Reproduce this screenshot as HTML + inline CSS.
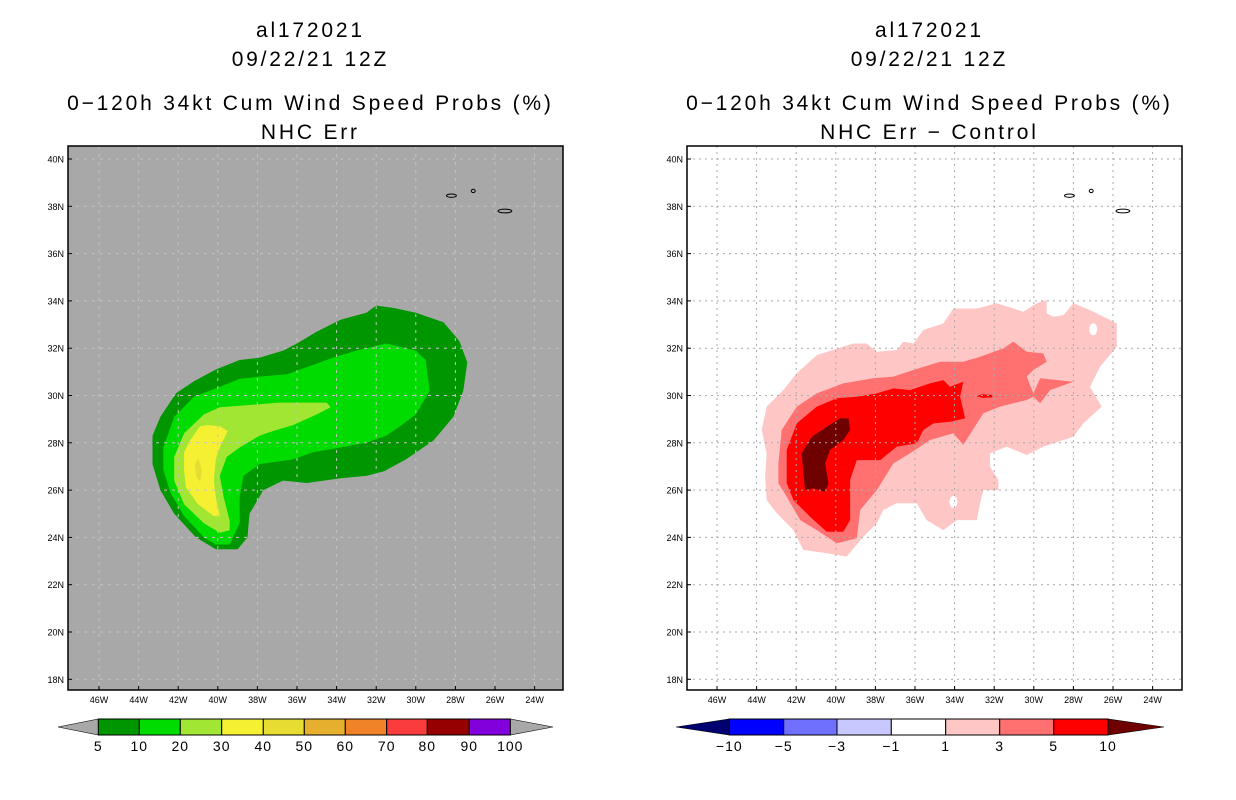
<!DOCTYPE html>
<html><head><meta charset="utf-8">
<style>
body{margin:0;background:#fff;}
svg{display:block;font-family:"Liberation Sans",sans-serif;}
.t{font-size:21px;text-anchor:middle;fill:#000;letter-spacing:2.8px;}
.tk{font-size:9px;fill:#000;}
.cl{font-size:14px;text-anchor:middle;fill:#000;letter-spacing:1px;}
</style></head>
<body>
<svg id="chart" width="1236" height="800" viewBox="0 0 1236 800" xmlns="http://www.w3.org/2000/svg"></svg>
<script>
// ---- data ----
const lonTicks = [46,44,42,40,38,36,34,32,30,28,26,24];
const latTicks = [40,38,36,34,32,30,28,26,24,22,20,18];
// Left panel contours (degrees W, degrees N)
const probs5 = [[43.3,28.3],[42.9,29.1],[42.1,30.1],[41.2,30.6],[40.1,31.1],[38.9,31.5],[37.9,31.6],[36.7,31.9],[36.0,32.2],[35.0,32.7],[33.8,33.2],[32.5,33.5],[32.0,33.8],[31.1,33.7],[30.0,33.5],[28.6,33.1],[27.8,32.3],[27.4,31.4],[27.6,30.2],[28.1,29.1],[29.1,28.1],[30.5,27.3],[31.6,26.8],[32.5,26.6],[33.8,26.5],[35.5,26.3],[36.7,26.4],[37.7,26.0],[38.4,25.0],[38.5,24.0],[39.0,23.5],[40.1,23.5],[41.1,24.0],[42.2,25.0],[42.9,26.0],[43.3,27.1]];
const probs10 = [[42.75,27.8],[42.2,29.1],[41.2,29.95],[40.1,30.3],[38.9,30.7],[37.9,30.8],[36.5,30.9],[35.5,31.2],[34.2,31.6],[33.0,31.9],[31.5,32.2],[31.0,32.1],[30.0,31.9],[29.5,31.5],[29.3,30.2],[30.0,29.2],[30.8,28.7],[31.5,28.3],[32.5,28.0],[33.8,27.8],[35.2,27.6],[36.2,27.3],[37.9,27.1],[38.7,26.6],[38.9,25.7],[38.9,24.6],[39.4,23.7],[40.1,23.7],[40.7,24.0],[41.7,24.9],[42.4,25.9],[42.75,26.85]];
const probs20 = [[42.2,27.4],[41.7,28.4],[40.7,29.2],[39.9,29.5],[38.4,29.6],[36.9,29.7],[35.85,29.7],[34.5,29.7],[34.3,29.5],[35.0,29.2],[36.2,28.75],[37.2,28.5],[37.9,28.3],[38.9,27.8],[39.55,27.4],[39.9,26.6],[39.7,25.7],[39.4,24.7],[39.4,24.3],[39.9,24.2],[40.7,24.6],[41.7,25.4],[42.2,26.4]];
const probs30 = [[41.7,27.6],[41.4,28.1],[40.9,28.7],[40.5,28.75],[39.9,28.7],[39.5,28.5],[39.9,27.8],[40.1,27.3],[40.2,26.4],[40.1,25.7],[39.9,24.9],[40.2,24.9],[41.0,25.4],[41.6,26.1],[41.7,26.8]];
const probs40 = [[41.15,27.1],[41.0,27.35],[40.8,26.85],[40.9,26.35],[41.1,26.6]];
// Right panel difference contours
const diff1 = [[43.74,28.54],[43.49,29.53],[42.65,30.23],[41.97,30.94],[40.96,31.71],[39.11,32.2],[38.44,32.2],[37.93,31.85],[36.92,31.92],[36.59,32.28],[36.08,32.2],[35.58,32.77],[34.57,33.05],[34.06,33.68],[32.88,33.68],[31.87,33.9],[31.03,33.68],[30.53,33.54],[29.85,33.9],[29.35,34.04],[29.35,33.47],[29.01,33.33],[28.5,33.4],[28.0,33.9],[27.16,33.61],[26.48,33.33],[25.81,33.05],[25.81,32.06],[26.65,31.22],[27.16,30.37],[26.57,29.53],[27.5,28.82],[28.0,28.26],[29.52,27.84],[30.36,27.48],[31.37,27.84],[32.21,27.55],[32.21,26.99],[31.79,26.43],[31.79,26.0],[32.55,26.0],[32.71,25.44],[32.88,24.73],[33.89,24.73],[34.57,24.31],[35.41,24.73],[35.91,25.44],[36.92,25.44],[37.6,25.16],[37.93,24.59],[38.61,24.03],[39.45,23.19],[40.46,23.33],[41.64,23.47],[42.14,24.31],[42.98,25.02],[43.49,25.58],[43.57,26.57],[43.49,27.55]];
const diff3 = [[42.9,27.13],[42.73,28.54],[41.97,29.53],[40.96,30.09],[39.62,30.51],[38.1,30.73],[37.09,30.8],[36.08,31.08],[34.73,31.43],[33.56,31.43],[32.71,31.64],[31.54,31.99],[31.03,32.28],[30.36,31.85],[29.52,31.78],[29.35,31.43],[30.02,31.08],[30.36,30.8],[30.02,30.09],[29.68,30.73],[28.0,30.58],[29.18,30.23],[29.68,29.67],[30.02,29.95],[30.36,29.81],[31.7,29.53],[32.55,29.25],[33.56,27.91],[34.06,28.4],[35.24,28.12],[36.25,27.55],[37.09,27.13],[37.93,26.0],[38.77,25.16],[38.94,23.96],[39.95,23.75],[40.96,24.31],[41.8,24.73],[42.48,25.72],[42.9,26.29]];
const diff5 = [[42.48,27.7],[41.97,28.82],[40.96,29.53],[39.95,29.88],[38.94,29.95],[37.93,30.09],[37.09,30.3],[36.25,30.23],[35.24,30.51],[34.57,30.65],[34.23,30.37],[33.56,30.58],[33.72,29.95],[33.47,29.03],[34.23,28.89],[35.07,28.82],[35.58,28.54],[35.91,27.98],[36.92,27.84],[37.76,27.27],[38.94,27.27],[39.28,26.43],[39.28,24.73],[39.62,24.24],[40.46,24.24],[41.3,24.87],[42.14,25.58],[42.48,26.29]];
const diff5b = [[32.9,29.98],[32.6,30.05],[32.1,30.02],[32.1,29.92],[32.6,29.9]];
const diff10 = [[41.72,27.55],[41.21,28.26],[40.46,28.68],[39.78,29.03],[39.36,29.03],[39.28,28.54],[39.62,28.12],[40.29,27.7],[40.54,27.13],[40.37,26.29],[40.54,25.93],[41.13,26.07],[41.55,26.0],[41.64,26.71]];
const holes = [[27.0,32.8],[34.06,25.5]];
const islands = [[28.2,38.45,0.25,0.07],[27.1,38.65,0.1,0.07],[25.5,37.8,0.35,0.08]];
const leftLevels = ["5","10","20","30","40","50","60","70","80","90","100"];
const leftColors = ["#009600","#00dc00","#a0e632","#f5f032","#e6dc32","#e6af2d","#f08228","#fa3c3c","#960000","#8200dc"];
const rightLevels = ["\u221210","\u22125","\u22123","\u22121","1","3","5","10"];
const rightColors = ["#0000ff","#7070ff","#c8c8ff","#ffffff","#ffc6c6","#ff7070","#ff0000"];

// ---- axes ----
const NS="http://www.w3.org/2000/svg";
const svg=document.getElementById('chart');
function xL(w){return 99+(46-w)*19.8;}
function xR(w){return 717+(46-w)*19.8;}
function yS(lat){return 159+(40-lat)*23.65;}
function mk(tag,attrs,parent){const e=document.createElementNS(NS,tag);for(const k in attrs)e.setAttribute(k,attrs[k]);(parent||svg).appendChild(e);return e;}
function pts(arr,xf){return arr.map(p=>xf(p[0]).toFixed(1)+','+yS(p[1]).toFixed(1)).join(' ');}

function panel(x0,bg,name){
  const g=mk('g',{});
  
  
  const r=mk('rect',{x:x0,y:146,width:495,height:544,fill:bg},g);
  
  
  return g;
}
function grid(g,x0,xf,col,dash){
  lonTicks.forEach(w=>{
    const l=mk('line',{x1:xf(w),x2:xf(w),y1:146,y2:690,stroke:col,'stroke-width':1,'stroke-dasharray':dash},g);
    
    
    const t=mk('text',{x:xf(w),y:703,class:'tk','text-anchor':'middle'},g);t.textContent=w+'W';
    
    
    mk('line',{x1:xf(w),x2:xf(w),y1:690,y2:686,stroke:'#000'},g);
  });
  latTicks.forEach(a=>{
    const l=mk('line',{x1:x0,x2:x0+495,y1:yS(a),y2:yS(a),stroke:col,'stroke-width':1,'stroke-dasharray':dash},g);
    
    
    const t=mk('text',{x:x0-4,y:yS(a)+3.5,class:'tk','text-anchor':'end'},g);t.textContent=a+'N';
    
    
    mk('line',{x1:x0,x2:x0+4,y1:yS(a),y2:yS(a),stroke:'#000'},g);
  });
}
function poly(g,arr,xf,fill,name){
  const p=mk('polygon',{points:pts(arr,xf),fill:fill},g);
  
  
}
function isles(g,xf){
  islands.forEach(i=>{
    const e=mk('ellipse',{cx:xf(i[0]),cy:yS(i[1]),rx:i[2]*19.8,ry:i[3]*23.65,fill:'none',stroke:'#000','stroke-width':1},g);
    
    
  });
}
function title(cx,l3,l4){
  [['al172021',37],['09/22/21 12Z',66],[l3,110],[l4,139]].forEach((s,i)=>{
    const t=mk('text',{x:cx+1.4,y:s[1],class:'t'});t.textContent=s[0];
    
    
  });
}
function colorbar(edges,colors,labels,lt,rt,lc,rc,name){
  const g=mk('g',{});
  
  
  mk('polygon',{points:`${lt},727 ${edges[0]},719 ${edges[0]},735`,fill:lc,stroke:'#000','stroke-width':0.6},g);
  mk('polygon',{points:`${rt},727 ${edges[edges.length-1]},719 ${edges[edges.length-1]},735`,fill:rc,stroke:'#000','stroke-width':0.6},g);
  colors.forEach((c,i)=>{
    const r=mk('rect',{x:edges[i],y:719,width:edges[i+1]-edges[i],height:16,fill:c,stroke:'#000','stroke-width':1},g);
    
    
  });
  labels.forEach((l,i)=>{
    const t=mk('text',{x:edges[i],y:751,class:'cl'},g);t.textContent=l;
    
    
  });
}

// Left
title(309,'0\u2212120h 34kt Cum Wind Speed Probs (%)','NHC Err');
const gl=panel(68,'#a8a8a8','left-map-panel');
poly(gl,probs5,xL,leftColors[0],'contour-5pct');
poly(gl,probs10,xL,leftColors[1],'contour-10pct');
poly(gl,probs20,xL,leftColors[2],'contour-20pct');
poly(gl,probs30,xL,leftColors[3],'contour-30pct');
poly(gl,probs40,xL,leftColors[4],'contour-40pct');
grid(gl,68,xL,'#c4c4c4','3,5');
isles(gl,xL);
mk('rect',{x:68,y:146,width:495,height:544,fill:'none',stroke:'#000','stroke-width':1.5},gl);

// Right
title(928,'0\u2212120h 34kt Cum Wind Speed Probs (%)','NHC Err \u2212 Control');
const gr=panel(687,'#ffffff','right-map-panel');
poly(gr,diff1,xR,rightColors[4],'contour-diff-1');
holes.forEach(h=>{const e=mk('ellipse',{cx:xR(h[0]),cy:yS(h[1]),rx:4,ry:6,fill:'#fff'},gr);});
poly(gr,diff3,xR,rightColors[5],'contour-diff-3');
poly(gr,diff5,xR,rightColors[6],'contour-diff-5');
poly(gr,diff5b,xR,rightColors[6],'contour-diff-5-small');
poly(gr,diff10,xR,'#6e0000','contour-diff-10');
grid(gr,687,xR,'#aaaaaa','2,4');
isles(gr,xR);
mk('rect',{x:687,y:146,width:495,height:544,fill:'none',stroke:'#000','stroke-width':1.5},gr);

colorbar([98.3,139.3,180.3,221.7,263.3,304.3,345.3,386.7,427.3,469.3,510.3],leftColors,leftLevels,58,553,'#a8a8a8','#a8a8a8','left-colorbar');
colorbar([729.3,783.7,837,891.3,945.7,999.7,1053.7,1108],rightColors,rightLevels,676,1164,'#000070','#6e0000','right-colorbar');
</script>
</body></html>
